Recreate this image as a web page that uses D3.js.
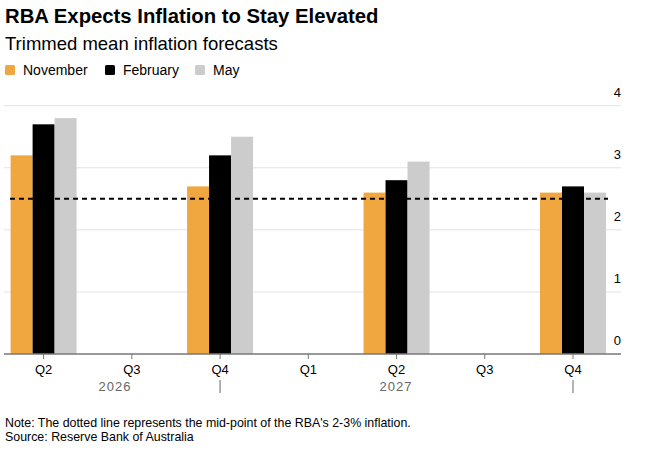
<!DOCTYPE html>
<html><head><meta charset="utf-8">
<script src="https://cdn.jsdelivr.net/npm/d3@7"></script>
<style>body{margin:0;background:#fff;font-family:"Liberation Sans",Arial,sans-serif}</style>
</head><body><svg id="c" width="651" height="462"></svg>
<script>
var quarters = ["Q2", "Q3", "Q4", "Q1", "Q2 ", "Q3 ", "Q4 "];
var tickLabels = ["Q2", "Q3", "Q4", "Q1", "Q2", "Q3", "Q4"];
var dataQuarters = ["Q2", "Q4", "Q2 ", "Q4 "];
var november = [3.2, 2.7, 2.6, 2.6];
var february = [3.7, 3.2, 2.8, 2.7];
var may = [3.8, 3.5, 3.1, 2.6];
var seriesNames = ["November", "February", "May"];
var colors = ["#f0a73f", "#000000", "#cccccc"];
var yTicks = [0, 1, 2, 3, 4];
var midpoint = 2.5;

var svg = d3.select("#c");
var x = d3.scalePoint().domain(quarters).range([43.6, 573]);
var y = d3.scaleLinear().domain([0, 4]).range([354, 105.7]);
var bw = 22;

svg.append("text").attr("x", 5).attr("y", 23).attr("font-size", 20.3).attr("font-weight", "bold").text("RBA Expects Inflation to Stay Elevated");
svg.append("text").attr("x", 5).attr("y", 50).attr("font-size", 18.5).text("Trimmed mean inflation forecasts");

var leg = svg.append("g").selectAll("g").data(seriesNames).enter().append("g")
  .attr("transform", function(d, i) { return "translate(" + [5, 105, 195][i] + ",65)"; });
leg.append("rect").attr("width", 10).attr("height", 10).attr("rx", 1.5).attr("fill", function(d, i) { return colors[i]; });
leg.append("text").attr("x", 18).attr("y", 10).attr("font-size", 14).text(function(d) { return d; });

svg.append("g").selectAll("line").data(yTicks.slice(1)).enter().append("line")
  .attr("x1", 4).attr("x2", 621).attr("y1", y).attr("y2", y).attr("stroke", "#e3e3e3");
svg.append("g").selectAll("text").data(yTicks).enter().append("text")
  .attr("x", 621).attr("y", function(d) { return y(d) - 9; }).attr("text-anchor", "end")
  .attr("font-size", 13).text(function(d) { return d; });

var series = [november, february, may];
series.forEach(function(s, k) {
  svg.append("g").selectAll("rect").data(s).enter().append("rect")
    .attr("x", function(d, i) { return x(dataQuarters[i]) - 1.5 * bw + k * bw; })
    .attr("width", bw)
    .attr("y", function(d) { return y(d); })
    .attr("height", function(d) { return y(0) - y(d); })
    .attr("fill", colors[k]);
});

svg.append("line").attr("x1", 10).attr("x2", 608).attr("y1", y(midpoint)).attr("y2", y(midpoint))
  .attr("stroke", "#000").attr("stroke-width", 2).attr("stroke-dasharray", "5,4");

svg.append("line").attr("x1", 4).attr("x2", 621).attr("y1", y(0)).attr("y2", y(0)).attr("stroke", "#777").attr("stroke-width", 1.5);
var ticks = svg.append("g").selectAll("g").data(quarters).enter().append("g")
  .attr("transform", function(d) { return "translate(" + x(d) + "," + y(0) + ")"; });
ticks.append("line").attr("y2", 5).attr("stroke", "#777");
ticks.append("text").attr("y", 20).attr("text-anchor", "middle").attr("font-size", 13)
  .text(function(d, i) { return tickLabels[i]; });

svg.append("text").attr("x", 115).attr("y", 391).attr("text-anchor", "middle").attr("font-size", 13).attr("fill", "#666").attr("letter-spacing", 1).text("2026");
svg.append("text").attr("x", 396).attr("y", 391).attr("text-anchor", "middle").attr("font-size", 13).attr("fill", "#666").attr("letter-spacing", 1).text("2027");
["Q4", "Q4 "].forEach(function(q) {
  svg.append("line").attr("x1", x(q)).attr("x2", x(q)).attr("y1", 380).attr("y2", 393).attr("stroke", "#666");
});

svg.append("text").attr("x", 5).attr("y", 427).attr("font-size", 12.4).text("Note: The dotted line represents the mid-point of the RBA's 2-3% inflation.");
svg.append("text").attr("x", 5).attr("y", 441).attr("font-size", 12.4).text("Source: Reserve Bank of Australia");
</script></body></html>
